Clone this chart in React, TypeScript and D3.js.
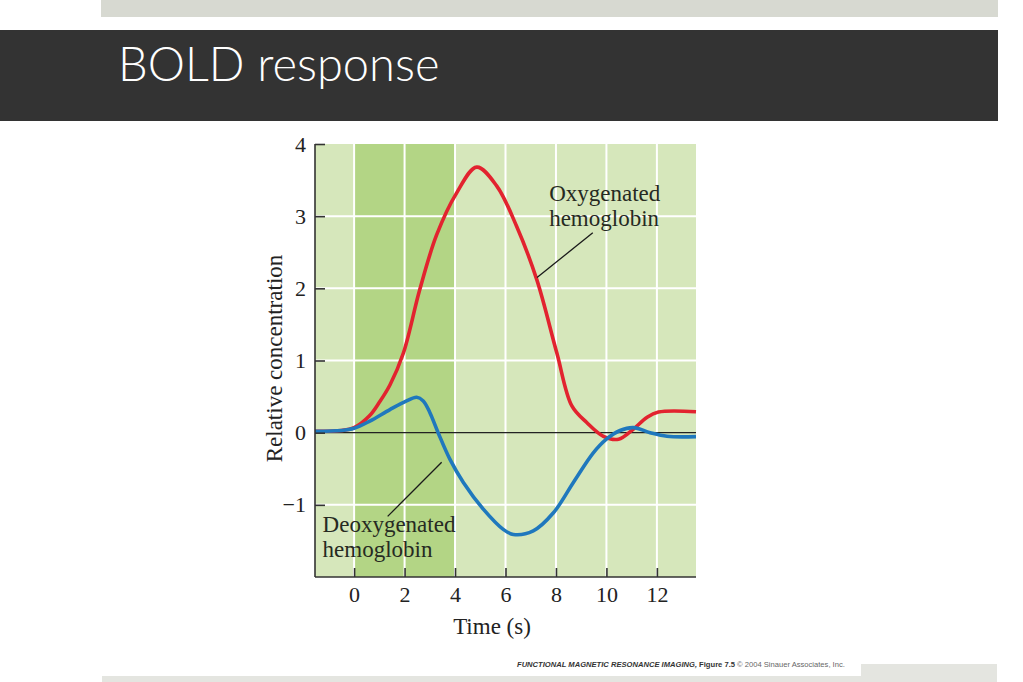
import { useEffect, useRef } from "react";
import * as d3 from "d3";

// time (s) and relative concentration
const oxyTime = [-1.55, -0.5, 0, 0.6, 1.0, 1.42, 1.95, 2.6, 3.27, 4.06, 4.86, 5.65, 6.44, 7.24, 8.03, 8.63, 9.22, 9.88, 10.48, 11.07, 11.6, 12.06, 13.55];
const oxyValue = [0.02, 0.03, 0.07, 0.23, 0.42, 0.66, 1.1, 1.98, 2.74, 3.32, 3.68, 3.42, 2.86, 2.12, 1.11, 0.37, 0.14, -0.05, -0.09, 0.05, 0.21, 0.285, 0.29];

const deoxyTime = [-1.55, -0.5, 0, 0.62, 1.42, 2.08, 2.48, 2.74, 3.0, 3.33, 3.8, 4.33, 5.12, 5.91, 6.31, 7.1, 7.9, 8.69, 9.48, 10.0, 10.54, 11.07, 11.73, 12.4, 13.55];
const deoxyValue = [0.02, 0.03, 0.06, 0.16, 0.32, 0.44, 0.49, 0.44, 0.28, 0, -0.37, -0.69, -1.06, -1.34, -1.41, -1.36, -1.11, -0.69, -0.28, -0.09, 0.03, 0.07, 0, -0.05, -0.055];

const xTicks = [0, 2, 4, 6, 8, 10, 12];
const yTicks = [-1, 0, 1, 2, 3, 4];
const stimulus = [0, 4];

const labels = [
  { lines: ["Oxygenated", "hemoglobin"], x: 7.73, y: 3.21 },
  { lines: ["Deoxygenated", "hemoglobin"], x: -1.25, y: -1.38 },
];
const pointers = [
  { x1: 9.46, y1: 2.77, x2: 7.25, y2: 2.15 },
  { x1: 1.33, y1: -1.16, x2: 3.47, y2: -0.41 },
];

const serif = "'Liberation Serif', 'DejaVu Serif', serif";

const App = () => {
  const ref = useRef<SVGSVGElement | null>(null);

  useEffect(() => {
    document.body.style.margin = "0";
    drawChart();
  }, []);

  const drawChart = () => {
    const svg = d3.select(ref.current);
    svg.selectAll("*").remove();

    // slide frame
    svg.append("rect").attr("x", 101).attr("y", 0).attr("width", 897).attr("height", 17).attr("fill", "#d7d9d1");
    svg.append("rect").attr("x", 0).attr("y", 30).attr("width", 998).attr("height", 91).attr("fill", "#333333");
    svg
      .append("text")
      .attr("x", 118)
      .attr("y", 81)
      .attr("fill", "#ffffff")
      .style("font-family", "Lato, 'Open Sans', 'DejaVu Sans', sans-serif")
      .style("font-weight", 300)
      .style("font-size", "47px")
      .text("BOLD response");

    const left = 315,
      right = 696,
      top = 144,
      bottom = 577;

    const x = d3.scaleLinear().domain([-1.55, 13.55]).range([left, right]);
    const y = d3.scaleLinear().domain([-2, 4]).range([bottom, top]);

    const g = svg.append("g");

    // plot background + stimulus band
    g.append("rect").attr("x", left).attr("y", top).attr("width", right - left).attr("height", bottom - top).attr("fill", "#d6e7bb");
    g.append("rect")
      .attr("x", x(stimulus[0]))
      .attr("y", top)
      .attr("width", x(stimulus[1]) - x(stimulus[0]))
      .attr("height", bottom - top)
      .attr("fill", "#b3d585");

    // white grid
    g.selectAll(".vgrid")
      .data(xTicks)
      .join("line")
      .attr("x1", (d) => x(d))
      .attr("x2", (d) => x(d))
      .attr("y1", top)
      .attr("y2", bottom)
      .attr("stroke", "#ffffff")
      .attr("stroke-width", 2);
    g.selectAll(".hgrid")
      .data(yTicks.filter((d) => d !== 0 && d !== 4))
      .join("line")
      .attr("x1", left)
      .attr("x2", right)
      .attr("y1", (d) => y(d))
      .attr("y2", (d) => y(d))
      .attr("stroke", "#ffffff")
      .attr("stroke-width", 2);

    // zero line
    g.append("line").attr("x1", left).attr("x2", right).attr("y1", y(0)).attr("y2", y(0)).attr("stroke", "#222").attr("stroke-width", 1.2);

    const line = d3
      .line<[number, number]>()
      .x((d) => x(d[0]))
      .y((d) => y(d[1]))
      .curve(d3.curveCatmullRom.alpha(0.5));

    g.append("path")
      .datum(d3.zip(oxyTime, oxyValue) as [number, number][])
      .attr("d", line)
      .attr("fill", "none")
      .attr("stroke", "#e2232f")
      .attr("stroke-width", 3.6);
    g.append("path")
      .datum(d3.zip(deoxyTime, deoxyValue) as [number, number][])
      .attr("d", line)
      .attr("fill", "none")
      .attr("stroke", "#1f78bd")
      .attr("stroke-width", 3.6);

    // annotations
    g.selectAll(".pointer")
      .data(pointers)
      .join("line")
      .attr("x1", (d) => x(d.x1))
      .attr("y1", (d) => y(d.y1))
      .attr("x2", (d) => x(d.x2))
      .attr("y2", (d) => y(d.y2))
      .attr("stroke", "#1a1a1a")
      .attr("stroke-width", 1.3);

    labels.forEach((l) => {
      const t = g
        .append("text")
        .attr("x", x(l.x))
        .attr("y", y(l.y))
        .attr("fill", "#262a22")
        .style("font-family", serif)
        .style("font-size", "23px");
      l.lines.forEach((s, i) => {
        t.append("tspan").attr("x", x(l.x)).attr("dy", i === 0 ? 0 : 25).text(s);
      });
    });

    // axes
    const xAxis = g
      .append("g")
      .attr("transform", `translate(0,${bottom})`)
      .call(d3.axisBottom(x).tickValues(xTicks).tickFormat(d3.format("d")).tickSizeInner(-9).tickSizeOuter(0).tickPadding(9));
    const yAxis = g
      .append("g")
      .attr("transform", `translate(${left},0)`)
      .call(d3.axisLeft(y).tickValues(yTicks).tickFormat(d3.format("d")).tickSizeInner(-10).tickSizeOuter(0).tickPadding(9));

    [xAxis, yAxis].forEach((a) => {
      a.select(".domain").attr("stroke", "#333").attr("stroke-width", 1.6);
      a.selectAll(".tick line").attr("stroke", "#333").attr("stroke-width", 1.6);
      a.selectAll("text").attr("fill", "#222").style("font-family", serif).style("font-size", "22px");
    });
    // domain ends at y = 4
    yAxis.select(".domain").attr("d", `M0,${top}V${bottom}`);
    xAxis.select(".domain").attr("d", `M${left},0H${right}`);

    g.append("text")
      .attr("x", 492)
      .attr("y", 634)
      .attr("text-anchor", "middle")
      .attr("fill", "#222")
      .style("font-family", serif)
      .style("font-size", "23px")
      .text("Time (s)");

    g.append("text")
      .attr("transform", `translate(282,${(top + bottom) / 2 - 2}) rotate(-90)`)
      .attr("text-anchor", "middle")
      .attr("fill", "#222")
      .style("font-family", serif)
      .style("font-size", "23px")
      .text("Relative concentration");

    // footer
    svg.append("rect").attr("x", 102).attr("y", 676).attr("width", 760).attr("height", 6).attr("fill", "#e4e5e0");
    svg.append("rect").attr("x", 861).attr("y", 664).attr("width", 136).attr("height", 18).attr("fill", "#e4e5e0");

    const cap = svg
      .append("text")
      .attr("x", 517)
      .attr("y", 667)
      .attr("fill", "#333")
      .style("font-family", "'Liberation Sans', Arial, sans-serif")
      .style("font-size", "7.6px");
    cap.append("tspan").style("font-weight", "bold").style("font-style", "italic").text("FUNCTIONAL MAGNETIC RESONANCE IMAGING,");
    cap.append("tspan").style("font-weight", "bold").text(" Figure 7.5");
    cap.append("tspan").attr("fill", "#666").text("  © 2004 Sinauer Associates, Inc.");
  };

  return <svg ref={ref} width={1023} height={682} style={{ display: "block" }} />;
};

export default App;
